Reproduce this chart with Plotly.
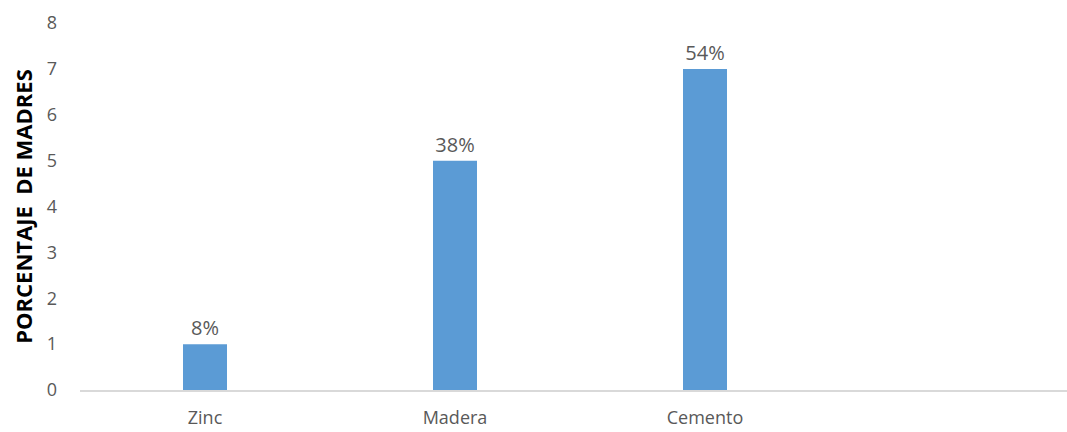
import plotly.graph_objects as go

categories = ["Zinc", "Madera", "Cemento"]
values = [1, 5, 7]
labels = ["8%", "38%", "54%"]
y_ticks = [0, 1, 2, 3, 4, 5, 6, 7, 8]

fig = go.Figure(go.Bar(
    x=categories,
    y=values,
    text=labels,
    textposition="outside",
    textfont=dict(family="Open Sans", size=20, color="#595959"),
    marker=dict(color="#5b9bd5", line=dict(width=0)),
    width=0.176,
    cliponaxis=False,
))

fig.update_layout(
    width=1067,
    height=432,
    margin=dict(l=80, r=0, t=23, b=42),
    paper_bgcolor="white",
    plot_bgcolor="white",
    showlegend=False,
    xaxis=dict(
        range=[-0.5, 3.448],
        showgrid=False,
        showline=True,
        linecolor="#d9d9d9",
        linewidth=1.5,
        zeroline=False,
        ticks="",
        ticklabelstandoff=11,
        tickfont=dict(family="Open Sans", size=18, color="#595959"),
    ),
    yaxis=dict(
        range=[0, 8],
        tickvals=y_ticks,
        showgrid=False,
        zeroline=False,
        showline=False,
        ticks="",
        ticklabelstandoff=22,
        tickfont=dict(family="Open Sans", size=18, color="#595959"),
        title=dict(
            text="<b>PORCENTAJE  DE MADRES</b>",
            font=dict(family="Open Sans", size=22, color="black"),
            standoff=8,
        ),
        automargin=False,
    ),
)

fig.write_html("out.html", config={"displayModeBar": False})

with open("out.html", "r", encoding="utf-8") as f:
    html = f.read()
html = html.replace("<body>", '<body style="margin:0;padding:0;overflow:hidden">', 1)
with open("out.html", "w", encoding="utf-8") as f:
    f.write(html)
